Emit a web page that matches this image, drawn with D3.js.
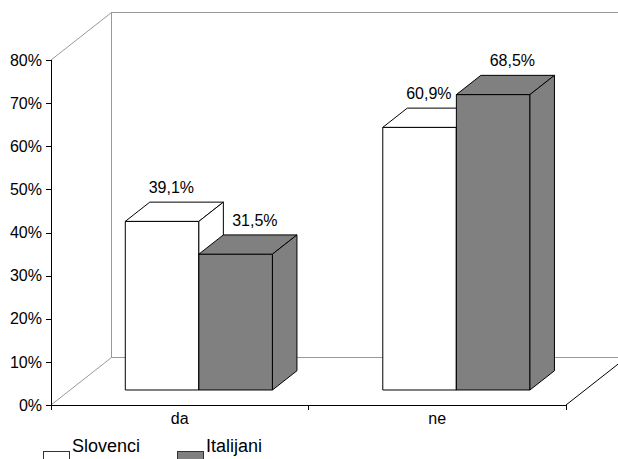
<!DOCTYPE html>
<html>
<head>
<meta charset="utf-8">
<script src="https://cdn.jsdelivr.net/npm/d3@7"></script>
<style>
  html, body { margin: 0; padding: 0; background: #fff; }
  svg { display: block; font-family: "Liberation Sans", Arial, Helvetica, sans-serif; }
</style>
</head>
<body>
<svg id="chart" width="618" height="459"></svg>
<script>
// Answers by group
const categories = ["da", "ne"];
const seriesNames = ["Slovenci", "Italijani"];
const slovenci = [39.1, 60.9];
const italijani = [31.5, 68.5];
const yTickValues = [0, 10, 20, 30, 40, 50, 60, 70, 80];

const seriesFill = ["#ffffff", "#808080"];
const values = [slovenci, italijani];

const svg = d3.select("#chart");

// Front plane geometry and oblique depth vector
const plot = { left: 51, right: 566, top: 60, bottom: 405 };
const depth = { dx: 60.5, dy: -47.5 };
const barFrontT = 0.316, barBackT = 0.721;

const y = d3.scaleLinear().domain([0, 80]).range([plot.bottom, plot.top]);
const x = d3.scaleBand().domain(categories).range([plot.left, plot.right]);
const xs = d3.scaleBand().domain(seriesNames).range([0, x.bandwidth()])
  .paddingInner(0).paddingOuter(0.75);

const P = (px, v, t) => [px + t * depth.dx, y(v) + t * depth.dy];
const pts = arr => arr.map(p => p.join(",")).join(" ");

const wallColor = "#999999";
const gWalls = svg.append("g").attr("fill", "none").attr("stroke-width", 1);

// Back wall: top edge, left vertical, floor back edge
const bl = P(plot.left, 0, 1), tl = P(plot.left, 80, 1);
const br = P(plot.right, 0, 1), tr = P(plot.right, 80, 1);
gWalls.append("polyline").attr("stroke", wallColor).attr("shape-rendering", "crispEdges")
  .attr("points", pts([tr, tl, bl, br]));
// Side wall diagonals
gWalls.append("line").attr("stroke", wallColor)
  .attr("x1", plot.left).attr("y1", y(80)).attr("x2", tl[0]).attr("y2", tl[1]);
gWalls.append("line").attr("stroke", wallColor)
  .attr("x1", plot.left).attr("y1", y(0)).attr("x2", bl[0]).attr("y2", bl[1]);
// Floor right diagonal
gWalls.append("line").attr("stroke", "#000")
  .attr("x1", plot.right).attr("y1", y(0)).attr("x2", br[0]).attr("y2", br[1]);

// Bars: front, top and right side faces
const gBars = svg.append("g").attr("stroke", "#000").attr("stroke-width", 1)
  .attr("stroke-linejoin", "miter");
categories.forEach((cat, ci) => {
  seriesNames.forEach((s, si) => {
    const v = values[si][ci];
    const x0 = x(cat) + xs(s), x1 = x0 + xs.bandwidth();
    const f0 = P(x0, 0, barFrontT), f1 = P(x1, 0, barFrontT);
    const ft0 = P(x0, v, barFrontT), ft1 = P(x1, v, barFrontT);
    const bt0 = P(x0, v, barBackT), bt1 = P(x1, v, barBackT), bb1 = P(x1, 0, barBackT);
    const g = gBars.append("g").attr("fill", seriesFill[si]);
    g.append("polygon").attr("points", pts([ft0, ft1, f1, f0]));
    g.append("polygon").attr("points", pts([ft0, bt0, bt1, ft1]));
    g.append("polygon").attr("points", pts([ft1, bt1, bb1, f1]));
  });
});

// Value labels above each bar
const fmt = d3.formatLocale({ decimal: ",", thousands: ".", grouping: [3], currency: ["", ""] }).format(".1f");
const labelShift = [-3, 7];
const gLabels = svg.append("g").attr("font-size", 16).attr("fill", "#000").attr("text-anchor", "middle");
categories.forEach((cat, ci) => {
  seriesNames.forEach((s, si) => {
    const v = values[si][ci];
    const xc = x(cat) + xs(s) + xs.bandwidth() / 2;
    const p = P(xc, v, (barFrontT + barBackT) / 2);
    const back = P(xc, v, barBackT);
    gLabels.append("text").attr("x", p[0] + labelShift[si]).attr("y", back[1] - 9)
      .text(fmt(v) + "%");
  });
});

// Value axis
const yAxis = d3.axisLeft(y).tickValues(yTickValues).tickSize(5).tickPadding(4)
  .tickFormat(d => d + "%");
const gy = svg.append("g").attr("transform", `translate(${plot.left},0)`).call(yAxis);
gy.select(".domain").attr("stroke", "#000").attr("shape-rendering", "crispEdges")
  .attr("d", `M-5,${plot.top}H0V${plot.bottom + 5}`);
gy.selectAll(".tick line").attr("stroke", "#000").attr("shape-rendering", "crispEdges");
gy.selectAll(".tick text").attr("font-size", 16).attr("fill", "#000")
  .attr("font-family", "Liberation Sans, Arial, sans-serif");

// Category axis
const xAxis = d3.axisBottom(x).tickSize(0).tickPadding(8);
const gx = svg.append("g").attr("transform", `translate(0,${plot.bottom})`).call(xAxis);
gx.select(".domain").attr("stroke", "#000").attr("shape-rendering", "crispEdges")
  .attr("d", `M${plot.left},0H${plot.right}`);
gx.selectAll(".tick text").attr("font-size", 16).attr("fill", "#000")
  .attr("font-family", "Liberation Sans, Arial, sans-serif");
const bounds = categories.map(c => x(c)).concat([plot.right]);
gx.selectAll("line.sep").data(bounds.slice(1)).join("line").attr("class", "sep")
  .attr("x1", d => d).attr("x2", d => d).attr("y1", 0).attr("y2", 5)
  .attr("stroke", "#000").attr("shape-rendering", "crispEdges");

// Legend
const legendX = [43, 177];
const gLeg = svg.append("g");
seriesNames.forEach((s, si) => {
  gLeg.append("rect").attr("x", legendX[si] + 0.5).attr("y", 451.5).attr("width", 26).attr("height", 14)
    .attr("fill", seriesFill[si]).attr("stroke", "#333");
  gLeg.append("text").attr("x", legendX[si] + 29).attr("y", 452).attr("font-size", 18)
    .attr("fill", "#000").text(s);
});
</script>
</body>
</html>
